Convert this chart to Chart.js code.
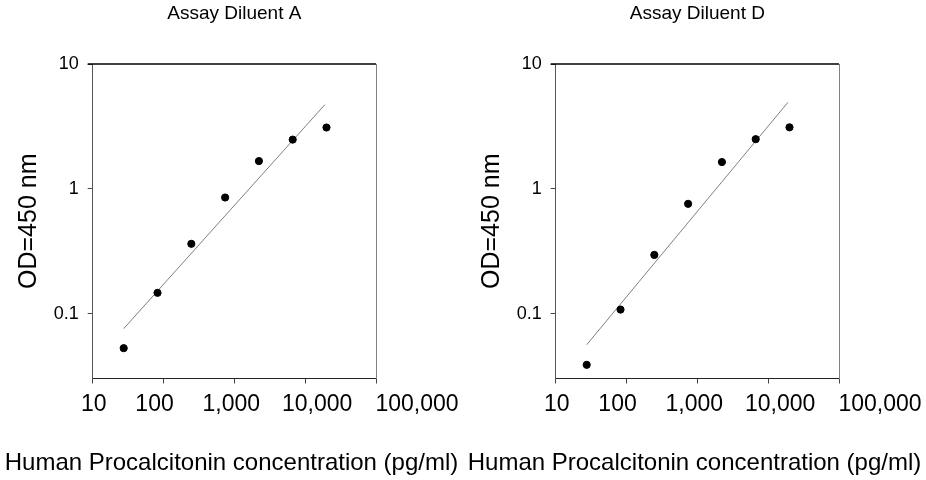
<!DOCTYPE html>
<html>
<head>
<meta charset="utf-8">
<title>Procalcitonin standard curves</title>
<script src="https://cdn.jsdelivr.net/npm/chart.js"></script>
<style>
  html, body { margin: 0; padding: 0; background: #fff; }
  .row { display: flex; width: 926px; height: 480px; }
  canvas { display: block; }
</style>
</head>
<body>
<div class="row">
  <canvas id="chartA" width="463" height="480"></canvas>
  <canvas id="chartD" width="463" height="480"></canvas>
</div>
<script>
// concentrations of the standard series (pg/ml)
const concentrations = [27.4, 82.3, 246.9, 740.7, 2222, 6667, 20000];
const odDiluentA = [0.053, 0.147, 0.363, 0.853, 1.67, 2.48, 3.10];
const odDiluentD = [0.039, 0.108, 0.296, 0.759, 1.64, 2.50, 3.11];

// end points of the fitted lines
const fitX = [27.4, 19000];
const fitA = [0.076, 4.73];
const fitD = [0.0565, 4.93];

const xTicks = [10, 100, 1000, 10000, 100000];
const yTicks = [0.1, 1, 10];

const FONT = 'Arial, "Liberation Sans", sans-serif';
// the original spreads the x labels a bit away from their ticks
const xLabelShift = [1, -9, -3, 12, 41];

function toPoints(xs, ys) {
    return xs.map((x, i) => ({ x: x, y: ys[i] }));
}

// top frame line, drawn over the plot like the original
const framePlugin = {
    id: 'frame',
    afterDraw(chart) {
        const { ctx, chartArea: a } = chart;
        ctx.save();
        ctx.strokeStyle = '#000';
        ctx.lineWidth = 1.5;
        ctx.beginPath();
        ctx.moveTo(a.left - 5, a.top);
        ctx.lineTo(a.right, a.top);
        ctx.stroke();
        ctx.restore();
    }
};

// x tick labels, placed from the x scale
const xLabelPlugin = {
    id: 'xLabels',
    afterDraw(chart) {
        const { ctx, chartArea: a } = chart;
        const scale = chart.scales.x;
        ctx.save();
        ctx.fillStyle = '#000';
        ctx.font = '23px ' + FONT;
        ctx.textAlign = 'center';
        ctx.textBaseline = 'middle';
        xTicks.forEach((v, i) => {
            ctx.fillText(v.toLocaleString('en-US'), scale.getPixelForValue(v) + xLabelShift[i], a.bottom + 26);
        });
        ctx.restore();
    }
};

function renderCurve(canvasId, titleText, odValues, fitValues) {
    const ctx = document.getElementById(canvasId).getContext('2d');
    new Chart(ctx, {
        type: 'scatter',
        data: {
            datasets: [{
                data: toPoints(concentrations, odValues),
                pointRadius: 3.6,
                pointBackgroundColor: '#000',
                pointBorderColor: '#000',
                showLine: false
            }, {
                data: toPoints(fitX, fitValues),
                showLine: true,
                borderColor: '#7f7f7f',
                borderWidth: 1,
                pointRadius: 0
            }]
        },
        options: {
            responsive: false,
            animation: false,
            layout: { padding: 0 },
            plugins: {
                legend: { display: false },
                tooltip: { enabled: false },
                title: {
                    display: true,
                    text: titleText,
                    fullSize: false,
                    color: '#000',
                    font: { family: FONT, size: 19, weight: 'normal' },
                    padding: { top: 2, bottom: 39.2 }
                },
                subtitle: {
                    display: true,
                    position: 'bottom',
                    fullSize: true,
                    text: 'Human Procalcitonin concentration (pg/ml)',
                    color: '#000',
                    font: { family: FONT, size: 24, weight: 'normal' },
                    padding: { top: 0, bottom: 2.3 }
                }
            },
            scales: {
                x: {
                    type: 'logarithmic',
                    min: 10,
                    max: 100000,
                    afterBuildTicks: scale => { scale.ticks = xTicks.map(v => ({ value: v })); },
                    afterFit: scale => { scale.height = 70.4; },
                    border: { display: true, color: '#222', width: 1 },
                    grid: { drawOnChartArea: false, drawTicks: true, tickLength: 5, color: '#444' },
                    ticks: { display: false }
                },
                y: {
                    type: 'logarithmic',
                    min: 0.0303,
                    max: 10,
                    afterBuildTicks: scale => { scale.ticks = yTicks.map(v => ({ value: v })); },
                    afterFit: scale => { scale.width = 92.7; },
                    border: { display: true, color: '#555', width: 1 },
                    grid: { drawOnChartArea: false, drawTicks: true, tickLength: 5, color: '#444' },
                    ticks: {
                        color: '#000',
                        padding: 9,
                        autoSkip: false,
                        font: { family: FONT, size: 18 },
                        callback: v => String(v)
                    },
                    title: {
                        display: true,
                        text: 'OD=450 nm',
                        color: '#000',
                        font: { family: FONT, size: 25 },
                        padding: { top: 14, bottom: 0 }
                    }
                },
                // right frame of the plot
                yRight: {
                    type: 'linear',
                    position: 'right',
                    afterFit: scale => { scale.width = 87; },
                    border: { display: true, color: '#808080', width: 1 },
                    grid: { drawOnChartArea: false, drawTicks: false },
                    ticks: { display: false }
                }
            }
        },
        plugins: [framePlugin, xLabelPlugin]
    });
}

document.addEventListener('DOMContentLoaded', () => {
    renderCurve('chartA', 'Assay Diluent A', odDiluentA, fitA);
    renderCurve('chartD', 'Assay Diluent D', odDiluentD, fitD);
});
</script>
</body>
</html>
